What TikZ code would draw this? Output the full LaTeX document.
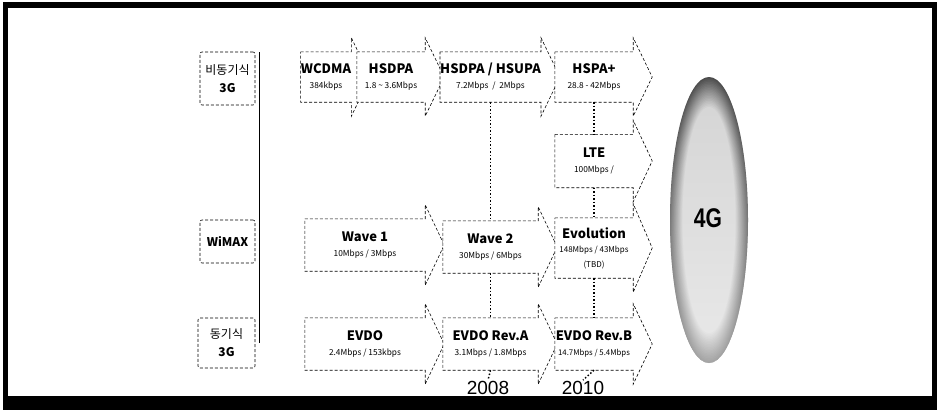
\documentclass[tikz,border=0pt]{standalone}
\usepackage{fontspec}
\setmainfont{Noto Sans CJK KR}
\newfontfamily\gfont{Liberation Sans}
\usetikzlibrary{backgrounds,fadings}
\newcommand{\arrtitle}[1]{{\bfseries\fontsize{13}{15}\selectfont #1}}
\tikzset{
  blk/.style={draw=black, densely dashed, line width=0.6pt, fill=white},
  body/.style={inner sep=0pt, minimum height=52pt, align=center, font=\fontsize{8.3}{15}\selectfont},
  lab/.style={draw, densely dashed, line width=0.6pt, rounded corners=2pt, inner sep=0pt, align=center, font=\fontsize{12}{18}\selectfont},
  yr/.style={inner sep=1pt, font=\gfont\fontsize{19}{19}\selectfont},
  vline/.style={dotted, line width=1.5pt}
}
\begin{document}
\begin{tikzpicture}[x=1pt,y=-1pt]
  \useasboundingbox (0,0) rectangle (940,410);
  % row labels
  \node[lab, minimum width=55pt, minimum height=53pt] (async) at (227.5,78.5) {비동기식\\\textbf{3G}};
  \node[lab, minimum width=55pt, minimum height=43pt] (wimax) at (227.5,241.5) {\textbf{WiMAX}};
  \node[lab, minimum width=57pt, minimum height=50pt] (sync) at (226.5,343) {동기식\\\textbf{3G}};
  \coordinate (vtop) at (259,52);
  \coordinate (vbot) at (259,343);
  \draw[line width=1pt] (vtop) -- (vbot);

  % arrow bodies
  \node[body, minimum width=40pt, minimum height=50pt] (wcdma) at (326,77) {\arrtitle{WCDMA}\\384kbps};
  \node[body, minimum width=68pt, minimum height=50pt] (hsdpa) at (391,77) {\arrtitle{HSDPA}\\1.8 \textasciitilde{} 3.6Mbps};
  \node[body, minimum width=95pt, minimum height=50pt] (hsupa) at (490.5,77) {\arrtitle{HSDPA / HSUPA}\\7.2Mbps\ \ /\ \ 2Mbps};
  \node[body, minimum width=78pt, minimum height=50pt] (hspa) at (594,77) {\arrtitle{HSPA+}\\28.8 - 42Mbps};
  \node[body, minimum width=78pt, minimum height=53pt] (lte) at (594,161) {\arrtitle{LTE}\\100Mbps /};
  \node[body, minimum width=120pt] (wave1) at (365,245) {\arrtitle{Wave 1}\\10Mbps / 3Mbps};
  \node[body, minimum width=95pt] (wave2) at (490.5,247) {\arrtitle{Wave 2}\\30Mbps / 6Mbps};
  \node[body, minimum width=78pt, minimum height=60pt, font=\fontsize{8}{14.5}\selectfont] (evol) at (594,248) {\arrtitle{Evolution}\\148Mbps / 43Mbps\\(TBD)};
  \node[body, minimum width=120pt] (evdo) at (365,344) {\arrtitle{EVDO}\\2.4Mbps / 153kbps};
  \node[body, minimum width=95pt] (reva) at (490.5,344) {\arrtitle{EVDO Rev.A}\\3.1Mbps / 1.8Mbps};
  \node[body, minimum width=78pt, font=\fontsize{7.8}{15}\selectfont] (revb) at (594,344) {\arrtitle{EVDO Rev.B}\\14.7Mbps / 5.4Mbps};

  % years
  \node[yr] (y2008) at (488,388) {2008};
  \node[yr] (y2010) at (583,388) {2010};

  % 4G ellipse: dark rim, pale inside
  \foreach \k in {0,...,19}
    \fill[black!\fpeval{70-2.8*\k}] (709,220) ellipse [x radius={39pt*(1-0.017*\k)}, y radius={143pt*(1-0.011*\k)}];
  \fill[white, path fading=north, fill opacity=0.5] (709,220) ellipse [x radius=39pt, y radius=143pt];
  \node (g4) at (708,218) {\scalebox{0.78}[1]{\gfont\bfseries\fontsize{27}{27}\selectfont 4G}};

  \begin{scope}[on background layer]
    \fill[black] (3,2) rectangle (937,410);
    \fill[white] (8,8) rectangle (932,396);
    \foreach \n in {wcdma,hsdpa,hsupa,hspa,lte,wave1,wave2,evol,evdo,reva,revb}
      \draw[blk] (\n.north west) -- (\n.north east) -- ([yshift=14pt]\n.north east)
        -- ([xshift=19pt]\n.east) -- ([yshift=-14pt]\n.south east)
        -- (\n.south east) -- (\n.south west) -- cycle;
  \end{scope}

  % time lines
  \draw[vline] (hsupa.south) -- (wave2.north);
  \draw[vline] (wave2.south) -- (reva.north);
  \draw[vline] (reva.south) -- (y2008.north);
  \draw[vline] (hspa.south) -- (lte.north);
  \draw[vline] (lte.south) -- (evol.north);
  \draw[vline] (evol.south) -- (revb.north);
  \draw[vline] (revb.south) -- (y2010.north);
\end{tikzpicture}
\end{document}
